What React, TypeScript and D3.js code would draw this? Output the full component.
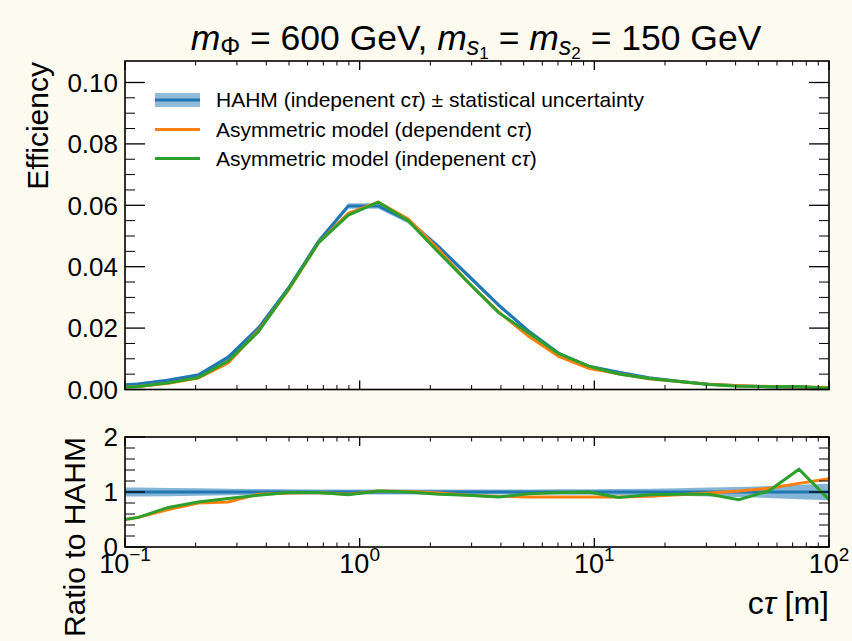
import React from 'react';
import * as d3 from 'd3';

// c*tau sample points [m]
const ctValues = [0.0847, 0.114, 0.153, 0.205, 0.275, 0.370, 0.497, 0.667, 0.895, 1.20, 1.61, 2.17, 2.91, 3.91, 5.25, 7.05, 9.46, 12.7, 17.1, 22.9, 30.8, 41.3, 55.5, 74.5, 100];
// HAHM (indepenent ctau) efficiency
const hahmEff = [0.0012, 0.0018, 0.0030, 0.0047, 0.0105, 0.0200, 0.0330, 0.0482, 0.0598, 0.0598, 0.0550, 0.0465, 0.0370, 0.0275, 0.0190, 0.0118, 0.0076, 0.0056, 0.0038, 0.0027, 0.0017, 0.0012, 0.0009, 0.0007, 0.0005];
// absolute statistical uncertainty on HAHM efficiency
const hahmErr = [0.0005, 0.0005, 0.0006, 0.0006, 0.0007, 0.0008, 0.0008, 0.0009, 0.0009, 0.0009, 0.0009, 0.0008, 0.0008, 0.0007, 0.0006, 0.0005, 0.0004, 0.0004, 0.0003, 0.0003, 0.0002, 0.0002, 0.0002, 0.0001, 0.0001];
// relative uncertainty shown in ratio panel
const hahmRelErr = [0.08, 0.08, 0.075, 0.07, 0.06, 0.055, 0.05, 0.045, 0.045, 0.045, 0.045, 0.045, 0.045, 0.045, 0.045, 0.05, 0.05, 0.055, 0.06, 0.07, 0.08, 0.09, 0.11, 0.13, 0.15];
// Asymmetric model (dependent ctau)
const asymDepEff = [0.00054, 0.00097, 0.00204, 0.00376, 0.00861, 0.0192, 0.03234, 0.04772, 0.05741, 0.0610, 0.05555, 0.04557, 0.03478, 0.0253, 0.01729, 0.01074, 0.00692, 0.0051, 0.0035, 0.00257, 0.00167, 0.00122, 0.00096, 0.00081, 0.00062];
// Asymmetric model (indepenent ctau)
const asymIndepEff = [0.00054, 0.00097, 0.00216, 0.00385, 0.00924, 0.0188, 0.03267, 0.04772, 0.05681, 0.0610, 0.0550, 0.04464, 0.03478, 0.02503, 0.01843, 0.01168, 0.0076, 0.00504, 0.00361, 0.00259, 0.00163, 0.00103, 0.00092, 0.00099, 0.00043];

const xMajorTicks = [0.1, 1, 10, 100];
const xTickExponents = ['\u22121', '0', '1', '2'];
const yTopTicks = [0, 0.02, 0.04, 0.06, 0.08, 0.10];
const yTopLabels = ['0.00', '0.02', '0.04', '0.06', '0.08', '0.10'];
const yBotTicks = [0, 1, 2];
const yBotLabels = ['0', '1', '2'];

const FONT = "'Liberation Sans', Arial, Helvetica, sans-serif";
const BLUE = '#1f77b4';
const ORANGE = '#ff7f0e';
const GREEN = '#2ca02c';

export default function App() {
  const W = 852, H = 641;
  const L = 125, R = 829;
  const tT = 61, tB = 389.5, bT = 437, bB = 547;

  const x = d3.scaleLog().domain([0.1, 100]).range([L, R]);
  const yT = d3.scaleLinear().domain([0, 0.107]).range([tB, tT]);
  const yB = d3.scaleLinear().domain([0, 2]).range([bB, bT]);

  const lineTop = d3.line<number>().x((_, i) => x(ctValues[i])).y(d => yT(d));
  const areaTop = d3.area<number>().x((_, i) => x(ctValues[i]))
    .y0((d, i) => yT(d - hahmErr[i])).y1((d, i) => yT(d + hahmErr[i]));
  const lineBot = d3.line<number>().x((_, i) => x(ctValues[i])).y(d => yB(d));
  const areaBot = d3.area<number>().x((_, i) => x(ctValues[i]))
    .y0((d) => yB(1 - d)).y1((d) => yB(1 + d));

  const ratioDep = asymDepEff.map((v, i) => v / hahmEff[i]);
  const ratioIndep = asymIndepEff.map((v, i) => v / hahmEff[i]);
  const ratioHahm = hahmEff.map((v, i) => v / hahmEff[i]);

  const xMinor: number[] = [];
  [0.1, 1, 10].forEach(d => { for (let k = 2; k <= 9; k++) xMinor.push(d * k); });
  const yTopMinor = d3.range(0, 21).map(i => i * 0.005).filter((v, i) => i % 4 !== 0);
  const yBotMinor = d3.range(0, 11).map(i => i * 0.2).filter((v, i) => i % 5 !== 0);

  const frame = (top: number, bottom: number, yScale: any, yMaj: number[], yMin: number[]) => (
    <g>
      {xMajorTicks.map((t, i) => (
        <g key={'xM' + i}>
          <line x1={x(t)} x2={x(t)} y1={bottom} y2={bottom - 9} stroke="#000" strokeWidth={1.3} />
          <line x1={x(t)} x2={x(t)} y1={top} y2={top + 9} stroke="#000" strokeWidth={1.3} />
        </g>
      ))}
      {xMinor.map((t, i) => (
        <g key={'xm' + i}>
          <line x1={x(t)} x2={x(t)} y1={bottom} y2={bottom - 4.5} stroke="#000" strokeWidth={1} />
          <line x1={x(t)} x2={x(t)} y1={top} y2={top + 4.5} stroke="#000" strokeWidth={1} />
        </g>
      ))}
      {yMaj.map((t, i) => (
        <g key={'yM' + i}>
          <line x1={L} x2={L + 20} y1={yScale(t)} y2={yScale(t)} stroke="#000" strokeWidth={1.3} />
          <line x1={R} x2={R - 20} y1={yScale(t)} y2={yScale(t)} stroke="#000" strokeWidth={1.3} />
        </g>
      ))}
      {yMin.map((t, i) => (
        <g key={'ym' + i}>
          <line x1={L} x2={L + 10} y1={yScale(t)} y2={yScale(t)} stroke="#000" strokeWidth={1} />
          <line x1={R} x2={R - 10} y1={yScale(t)} y2={yScale(t)} stroke="#000" strokeWidth={1} />
        </g>
      ))}
      <rect x={L} y={top} width={R - L} height={bottom - top} fill="none" stroke="#000" strokeWidth={1.6} />
    </g>
  );

  return (
    <svg width={W} height={H} style={{ position: 'absolute', left: 0, top: 0 }} fontFamily={FONT}>
      <defs>
        <clipPath id="clipTop"><rect x={L} y={tT} width={R - L} height={tB - tT} /></clipPath>
        <clipPath id="clipBot"><rect x={L} y={bT} width={R - L} height={bB - bT} /></clipPath>
      </defs>
      <rect x={0} y={0} width={W} height={H} fill="#fdfaf0" />
      <rect x={L} y={tT} width={R - L} height={tB - tT} fill="#fff" />
      <rect x={L} y={bT} width={R - L} height={bB - bT} fill="#fff" />

      {/* Title */}
      <text x={476} y={50} textAnchor="middle" fontSize={35.5} fill="#000">
        <tspan fontStyle="italic">m</tspan>
        <tspan fontSize={25} dy={5}>{'\u03A6'}</tspan>
        <tspan dy={-5}>{' = 600 GeV, '}</tspan>
        <tspan fontStyle="italic">m</tspan>
        <tspan fontSize={25} fontStyle="italic" dy={5}>s</tspan>
        <tspan fontSize={17} dy={4}>1</tspan>
        <tspan dy={-9}>{' = '}</tspan>
        <tspan fontStyle="italic">m</tspan>
        <tspan fontSize={25} fontStyle="italic" dy={5}>s</tspan>
        <tspan fontSize={17} dy={4}>2</tspan>
        <tspan dy={-9}>{' = 150 GeV'}</tspan>
      </text>

      {/* Upper panel data */}
      <g clipPath="url(#clipTop)">
        <path d={areaTop(hahmEff) || ''} fill={BLUE} opacity={0.5} />
        <path d={lineTop(hahmEff) || ''} fill="none" stroke={BLUE} strokeWidth={3} />
        <path d={lineTop(asymDepEff) || ''} fill="none" stroke={ORANGE} strokeWidth={3} />
        <path d={lineTop(asymIndepEff) || ''} fill="none" stroke={GREEN} strokeWidth={3} />
      </g>
      {frame(tT, tB, yT, yTopTicks, yTopMinor)}

      {/* Lower panel data */}
      <g clipPath="url(#clipBot)">
        <path d={areaBot(hahmRelErr) || ''} fill={BLUE} opacity={0.55} />
        <path d={lineBot(ratioHahm) || ''} fill="none" stroke={BLUE} strokeWidth={3} />
        <path d={lineBot(ratioDep) || ''} fill="none" stroke={ORANGE} strokeWidth={3} />
        <path d={lineBot(ratioIndep) || ''} fill="none" stroke={GREEN} strokeWidth={3} />
      </g>
      {frame(bT, bB, yB, yBotTicks, yBotMinor)}

      {/* Y tick labels */}
      {yTopTicks.map((t, i) => (
        <text key={'yl' + i} x={118} y={yT(t)} dy="0.36em" textAnchor="end" fontSize={26}>{yTopLabels[i]}</text>
      ))}
      {yBotTicks.map((t, i) => (
        <text key={'ybl' + i} x={118} y={yB(t)} dy="0.36em" textAnchor="end" fontSize={26}>{yBotLabels[i]}</text>
      ))}

      {/* X tick labels */}
      {xMajorTicks.map((t, i) => (
        <text key={'xl' + i} x={x(t)} y={573} textAnchor="middle" fontSize={27}>
          <tspan>10</tspan>
          <tspan fontSize={19} dy={-12}>{xTickExponents[i]}</tspan>
        </text>
      ))}

      {/* Axis labels */}
      <text transform={`translate(48,${tT + 1}) rotate(-90)`} textAnchor="end" fontSize={30}>Efficiency</text>
      <text transform={`translate(85,${bT}) rotate(-90)`} textAnchor="end" fontSize={30}>Ratio to HAHM</text>
      <text x={R} y={614} textAnchor="end" fontSize={32}>
        <tspan>c</tspan><tspan fontStyle="italic">{'\u03C4'}</tspan><tspan>{' [m]'}</tspan>
      </text>

      {/* Legend */}
      <g>
        <rect x={155} y={93} width={45} height={14} fill={BLUE} opacity={0.5} />
        <line x1={155} x2={200} y1={100} y2={100} stroke={BLUE} strokeWidth={3} />
        <text x={216} y={107} fontSize={21}>
          <tspan>{'HAHM (indepenent c'}</tspan><tspan fontStyle="italic">{'\u03C4'}</tspan><tspan>{') \u00B1 statistical uncertainty'}</tspan>
        </text>
        <line x1={155} x2={200} y1={129.5} y2={129.5} stroke={ORANGE} strokeWidth={3} />
        <text x={216} y={136.5} fontSize={21}>
          <tspan>{'Asymmetric model (dependent c'}</tspan><tspan fontStyle="italic">{'\u03C4'}</tspan><tspan>{')'}</tspan>
        </text>
        <line x1={155} x2={200} y1={158.5} y2={158.5} stroke={GREEN} strokeWidth={3} />
        <text x={216} y={165.5} fontSize={21}>
          <tspan>{'Asymmetric model (indepenent c'}</tspan><tspan fontStyle="italic">{'\u03C4'}</tspan><tspan>{')'}</tspan>
        </text>
      </g>
    </svg>
  );
}
